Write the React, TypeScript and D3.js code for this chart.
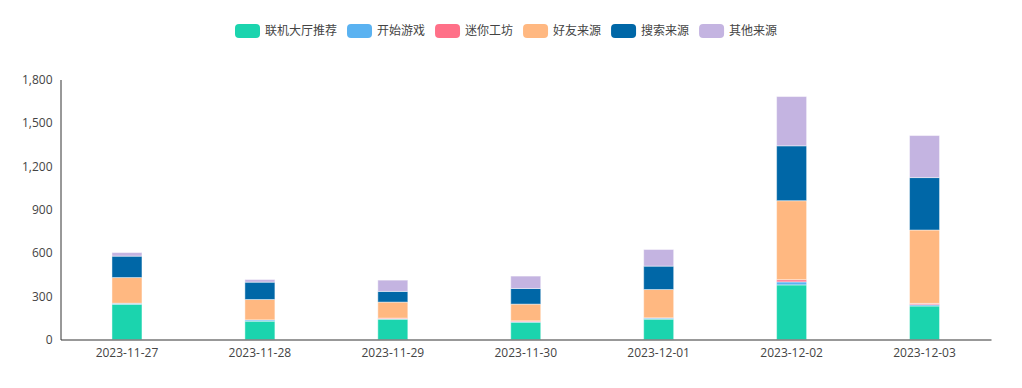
import React, { useRef, useEffect } from "react";
import * as d3 from "d3";

const categories = ["2023-11-27", "2023-11-28", "2023-11-29", "2023-11-30", "2023-12-01", "2023-12-02", "2023-12-03"];
const seriesNames = ["联机大厅推荐", "开始游戏", "迷你工坊", "好友来源", "搜索来源", "其他来源"];
const seriesColors = ["#1bd4ae", "#5ab2f1", "#ff7088", "#ffb881", "#0067a7", "#c4b4e1"];

const lobby = [244, 127, 141, 120, 141, 378, 232];
const startGame = [7, 9, 2, 3, 8, 21, 9];
const workshop = [0, 0, 5, 6, 1, 15, 9];
const friends = [178, 141, 111, 116, 196, 547, 508];
const search = [148, 120, 74, 108, 162, 380, 363];
const others = [25, 18, 78, 86, 115, 341, 291];

const yTicks = [0, 300, 600, 900, 1200, 1500, 1800];

const seriesValues = [lobby, startGame, workshop, friends, search, others];

const W = 1022;
const H = 388;
const FONT = "'Noto Sans CJK SC', 'Noto Sans', sans-serif";
const NUM_FONT = "'Open Sans', 'Noto Sans', sans-serif";

const StackedBars = () => {
  const svgRef = useRef<SVGSVGElement>(null);

  useEffect(() => {
    const svg = d3.select(svgRef.current);
    svg.selectAll("*").remove();

    const left = 60.5;
    const right = 991;
    const top = 79.5;
    const bottom = 339.5;

    const rows = categories.map((c, i) => {
      const row: any = { cat: c };
      seriesNames.forEach((s, k) => (row[s] = seriesValues[k][i]));
      return row;
    });

    const stacked = d3.stack().keys(seriesNames)(rows);

    const x = d3.scaleBand().domain(categories).range([left, right]);
    const y = d3.scaleLinear().domain([0, 1800]).range([bottom, top]);
    const barW = 30;

    // bars
    svg.append("g")
      .selectAll("g")
      .data(stacked)
      .enter()
      .append("g")
      .attr("fill", (_, i) => seriesColors[i])
      .selectAll("rect")
      .data(d => d)
      .enter()
      .filter(d => d[1] - d[0] > 0)
      .append("rect")
      .attr("x", d => (x(d.data.cat as string) as number) + x.bandwidth() / 2 - barW / 2)
      .attr("y", d => y(d[1]))
      .attr("width", barW)
      .attr("height", d => y(d[0]) - y(d[1]))
      .attr("stroke", "rgba(255,255,255,0.45)")
      .attr("stroke-width", 1);

    // y axis
    const yAxis = svg.append("g")
      .attr("transform", `translate(${left},0)`)
      .call(d3.axisLeft(y).tickValues(yTicks).tickSize(0).tickPadding(8).tickFormat(d3.format(",")));
    yAxis.select(".domain").attr("stroke", "#333");
    yAxis.selectAll("text").attr("fill", "#444").style("font-family", NUM_FONT).style("font-size", "12px");

    // x axis
    const xAxis = svg.append("g")
      .attr("transform", `translate(0,${bottom})`)
      .call(d3.axisBottom(x).tickSize(0).tickPadding(9));
    xAxis.select(".domain").attr("stroke", "#333");
    xAxis.selectAll("text").attr("fill", "#444").style("font-family", NUM_FONT).style("font-size", "12px");

    // legend
    const legend = svg.append("g");
    let lx = 235;
    seriesNames.forEach((name, i) => {
      legend.append("rect")
        .attr("x", lx)
        .attr("y", 24)
        .attr("width", 25)
        .attr("height", 14)
        .attr("rx", 4)
        .attr("fill", seriesColors[i]);
      const t = legend.append("text")
        .attr("x", lx + 30)
        .attr("y", 31)
        .attr("dy", "0.35em")
        .attr("fill", "#444")
        .style("font-family", FONT)
        .style("font-size", "12px")
        .text(name);
      const tw = (t.node() as SVGTextElement).getComputedTextLength();
      lx += 30 + tw + 10;
    });
  }, []);

  return (
    <svg
      ref={svgRef}
      width={W}
      height={H}
      style={{ position: "absolute", left: 0, top: 0, background: "#fff" }}
    />
  );
};

export default function App() {
  return <StackedBars />;
}
